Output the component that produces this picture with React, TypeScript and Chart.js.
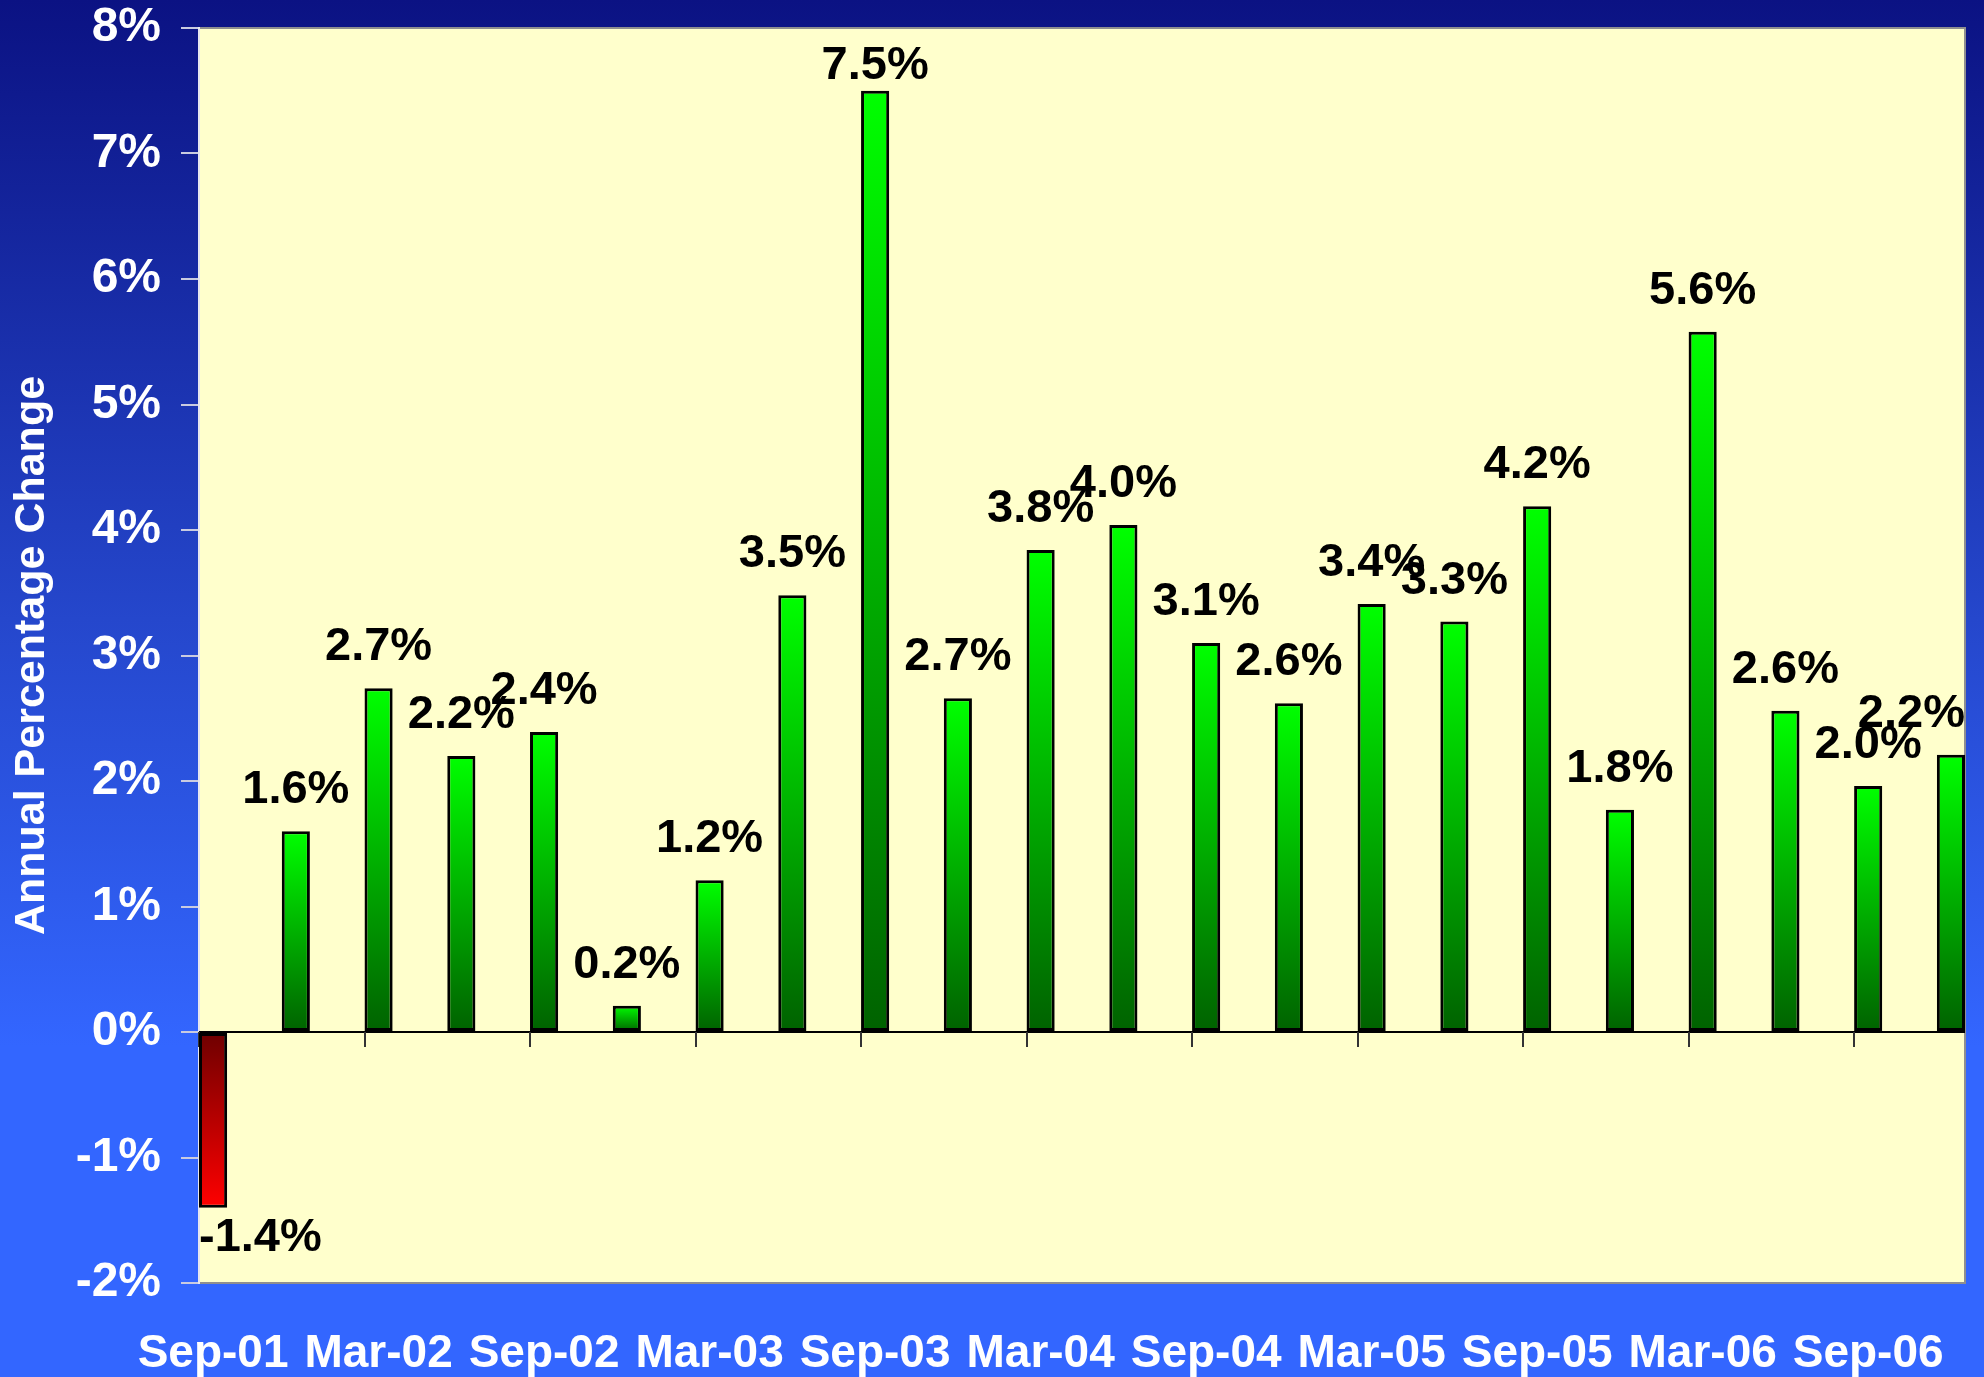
import React, { useEffect, useRef } from "react";
import { Chart, registerables } from "chart.js";

Chart.register(...registerables);

const FONT = "'Liberation Sans', Arial, Helvetica, sans-serif";

const quarters = [
  "Sep-01", "Dec-01", "Mar-02", "Jun-02", "Sep-02", "Dec-02", "Mar-03", "Jun-03",
  "Sep-03", "Dec-03", "Mar-04", "Jun-04", "Sep-04", "Dec-04", "Mar-05", "Jun-05",
  "Sep-05", "Dec-05", "Mar-06", "Jun-06", "Sep-06", "Dec-06",
];

const changePct = [
  -1.4, 1.6, 2.74, 2.2, 2.39, 0.21, 1.21, 3.48, 7.5, 2.66, 3.84,
  4.04, 3.1, 2.62, 3.41, 3.27, 4.19, 1.77, 5.58, 2.56, 1.96, 2.21,
];

const labelTickIdx = [0, 2, 4, 6, 8, 10, 12, 14, 16, 18, 20];

const yTickValues = [-2, -1, 0, 1, 2, 3, 4, 5, 6, 7, 8];

const yTitle = "Annual Percentage Change";

const BAR_FRACTION = 0.34;

const plotBgPlugin = {
  id: "plotBg",
  beforeDraw(chart: any) {
    const { ctx, chartArea } = chart;
    if (!chartArea) return;
    ctx.save();
    ctx.fillStyle = "#FFFFCC";
    ctx.fillRect(chartArea.left, chartArea.top, chartArea.right - chartArea.left, chartArea.bottom - chartArea.top);
    ctx.strokeStyle = "#8f8f8f";
    ctx.lineWidth = 2;
    ctx.strokeRect(chartArea.left, chartArea.top, chartArea.right - chartArea.left, chartArea.bottom - chartArea.top);
    ctx.restore();
  },
};

const zeroAxisPlugin = {
  id: "zeroAxis",
  beforeDatasetsDraw(chart: any) {
    const { ctx, chartArea, scales } = chart;
    const y0 = scales.y.getPixelForValue(0);
    ctx.save();
    ctx.strokeStyle = "#000";
    ctx.lineWidth = 2;
    ctx.beginPath();
    ctx.moveTo(chartArea.left, y0);
    ctx.lineTo(chartArea.right, y0);
    ctx.stroke();
    const meta = chart.getDatasetMeta(0);
    ctx.strokeStyle = "#333333";
    ctx.lineWidth = 2;
    ctx.beginPath();
    labelTickIdx.forEach((i) => {
      const b: any = meta.data[i];
      if (!b) return;
      const x = Math.round(b.x - b.width / 2);
      ctx.moveTo(x, y0);
      ctx.lineTo(x, y0 + 15);
    });
    ctx.stroke();
    ctx.restore();
  },
};

const dataLabelPlugin = {
  id: "dataLabels",
  afterDatasetsDraw(chart: any) {
    const { ctx, chartArea } = chart;
    const meta = chart.getDatasetMeta(0);
    const size = 47;
    const cap = size * 0.716;
    ctx.save();
    ctx.font = `bold ${size}px ${FONT}`;
    ctx.fillStyle = "#000";
    ctx.textAlign = "center";
    ctx.textBaseline = "alphabetic";
    meta.data.forEach((bar: any, i: number) => {
      const v = changePct[i];
      const txt = v.toFixed(1) + "%";
      const w = ctx.measureText(txt).width;
      let x = bar.x;
      x = Math.max(chartArea.left + w / 2, Math.min(chartArea.right - w / 2, x));
      let y: number;
      if (v >= 0) {
        y = bar.y - 28;
        y = Math.max(y, chartArea.top + 17 + cap);
      } else {
        y = bar.y + 10 + cap;
      }
      ctx.fillText(txt, x, y);
    });
    ctx.restore();
  },
};

export default function App() {
  const canvasRef = useRef<HTMLCanvasElement | null>(null);

  useEffect(() => {
    const canvas = canvasRef.current;
    if (!canvas) return;
    const chart = new Chart(canvas, {
      type: "bar",
      data: {
        datasets: [
          {
            data: changePct.map((v, i) => ({ x: i, y: v })),
            backgroundColor: (c: any) => {
              const ch = c.chart;
              const { ctx, chartArea, scales } = ch;
              const v = changePct[c.dataIndex];
              if (!chartArea || v === undefined || !scales || !scales.y) return v < 0 ? "#cc0000" : "#00bb00";
              const y0 = scales.y.getPixelForValue(0);
              const y1 = scales.y.getPixelForValue(v);
              if (!isFinite(y0) || !isFinite(y1) || y0 === y1) return v < 0 ? "#cc0000" : "#00bb00";
              const g = ctx.createLinearGradient(0, y1, 0, y0);
              if (v >= 0) {
                g.addColorStop(0, "#00ff00");
                g.addColorStop(1, "#006200");
              } else {
                g.addColorStop(0, "#ff0000");
                g.addColorStop(1, "#6e0000");
              }
              return g;
            },
            borderColor: "#000000",
            borderWidth: 3,
            borderSkipped: false,
            barPercentage: BAR_FRACTION,
            categoryPercentage: 1,
          } as any,
        ],
      },
      options: {
        responsive: false,
        animation: false,
        devicePixelRatio: 1,
        layout: { padding: { top: 28, right: 19, left: 0, bottom: 0 } },
        plugins: {
          legend: { display: false },
          tooltip: { enabled: false },
          title: { display: false },
        },
        scales: {
          x: {
            type: "linear",
            min: -BAR_FRACTION / 2,
            max: 21 + BAR_FRACTION / 2,
            offset: false,
            afterBuildTicks: (s: any) => {
              s.ticks = labelTickIdx.map((v) => ({ value: v }));
            },
            afterFit: (s: any) => {
              s.height = 94;
              s.paddingLeft = 0;
              s.paddingRight = 0;
            },
            ticks: {
              autoSkip: false,
              maxRotation: 0,
              minRotation: 0,
              color: "#ffffff",
              padding: 44,
              font: { family: FONT, size: 46, weight: "bold" },
              callback: (v: any) => quarters[Math.round(Number(v))] ?? "",
            },
            grid: { display: false, drawTicks: false },
            border: { display: false },
          } as any,
          y: {
            type: "linear",
            min: -2,
            max: 8,
            afterBuildTicks: (s: any) => {
              s.ticks = yTickValues.map((v) => ({ value: v }));
            },
            afterFit: (s: any) => {
              s.width = 199;
              s.paddingTop = 0;
              s.paddingBottom = 0;
            },
            ticks: {
              stepSize: 1,
              color: "#ffffff",
              padding: 20,
              font: { family: FONT, size: 48, weight: "bold" },
              callback: (v: any) => `${v}%`,
            },
            grid: {
              drawOnChartArea: false,
              drawTicks: true,
              tickLength: 18,
              color: "#c9cbe0",
              lineWidth: 2,
            },
            border: { display: true, color: "#e6e6ee", width: 2 },
            title: {
              display: true,
              text: yTitle,
              color: "#ffffff",
              font: { family: FONT, size: 43, weight: "bold" },
              padding: { top: 6, bottom: 0 },
            },
          } as any,
        },
      },
      plugins: [plotBgPlugin, zeroAxisPlugin, dataLabelPlugin],
    });
    return () => chart.destroy();
  }, []);

  return (
    <div
      style={{
        position: "fixed",
        left: 0,
        top: 0,
        width: 1984,
        height: 1377,
        background: "linear-gradient(to bottom, #0b1283 0%, #2547cc 45%, #3366ff 76%, #3366ff 100%)",
      }}
    >
      <canvas ref={canvasRef} width={1984} height={1377} style={{ display: "block", width: 1984, height: 1377 }} />
    </div>
  );
}
